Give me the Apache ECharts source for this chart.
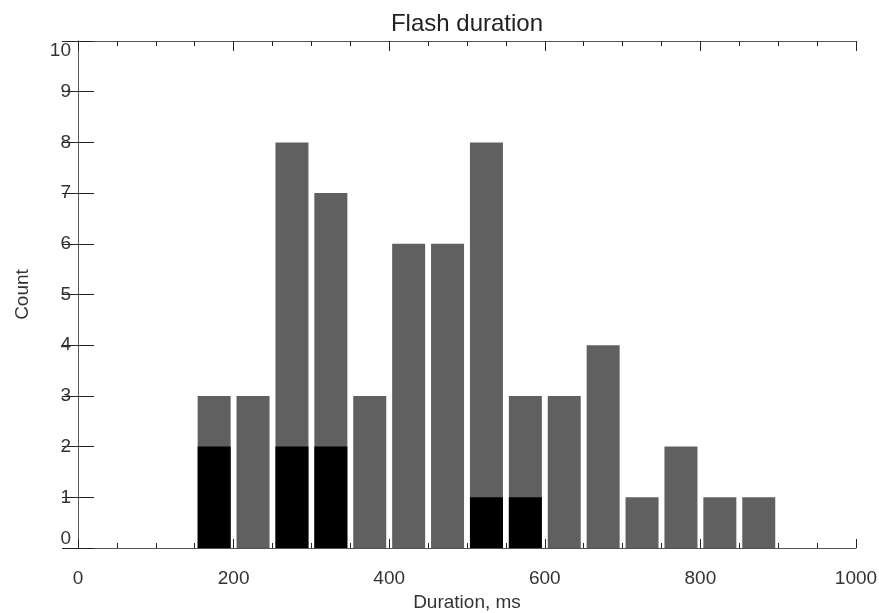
<!DOCTYPE html>
<html>
<head>
<meta charset="utf-8">
<script src="https://cdn.jsdelivr.net/npm/echarts@6/dist/echarts.min.js"></script>
<style>html,body{margin:0;padding:0;background:#fff}#c{width:879px;height:613px}</style>
</head>
<body>
<div id="c"></div>
<script>
var binCenters = [175, 225, 275, 325, 375, 425, 475, 525, 575, 625, 675, 725, 775, 825, 875];
var totalCounts = [3, 3, 8, 7, 3, 6, 6, 8, 3, 3, 4, 1, 2, 1, 1];
var blackCounts = [2, 0, 2, 2, 0, 0, 0, 1, 1, 0, 0, 0, 0, 0, 0];
var xTicks = [0, 200, 400, 600, 800, 1000];
var yTicks = [0, 1, 2, 3, 4, 5, 6, 7, 8, 9, 10];

var font = 'Liberation Sans, Arial, Helvetica, sans-serif';
var grayData = binCenters.map(function (c, i) { return [c, totalCounts[i]]; });
var blackData = binCenters.map(function (c, i) { return [c, blackCounts[i]]; });

var chart = echarts.init(document.getElementById('c'), null, {renderer: 'canvas'});
var axisLineStyle = {color: '#555', width: 1};
chart.setOption({
  animation: false,
  backgroundColor: '#fff',
  title: {
    text: 'Flash duration',
    left: 462, top: 7, textAlign: 'center',
    textStyle: {fontFamily: font, fontSize: 24, fontWeight: 'normal', color: '#222'}
  },
  grid: {left: 78, right: 23, top: 41, bottom: 65, containLabel: false, outerBoundsMode: 'none'},
  xAxis: [{
    type: 'value', position: 'bottom', min: xTicks[0], max: xTicks[xTicks.length - 1], interval: 200,
    name: 'Duration, ms', nameLocation: 'middle', nameGap: 45,
    nameTextStyle: {fontFamily: font, fontSize: 19, color: '#333'},
    axisLine: {show: true, onZero: false, lineStyle: axisLineStyle},
    axisTick: {show: true, inside: true, length: 9, lineStyle: {color: '#222'}},
    minorTick: {show: true, splitNumber: 4, length: 5, lineStyle: {color: '#222'}},
    axisLabel: {fontFamily: font, fontSize: 19, color: '#333', margin: 21,
      formatter: function (v) { return String(v); }},
    splitLine: {show: false}
  }, {
    type: 'value', position: 'top', min: xTicks[0], max: xTicks[xTicks.length - 1], interval: 200,
    axisLine: {show: true, onZero: false, lineStyle: axisLineStyle},
    axisTick: {show: true, inside: true, length: 10, lineStyle: {color: '#222'}},
    minorTick: {show: true, splitNumber: 4, length: 5, lineStyle: {color: '#222'}},
    axisLabel: {show: false},
    splitLine: {show: false}
  }],
  yAxis: [{
    type: 'value', position: 'left', min: yTicks[0], max: yTicks[yTicks.length - 1], interval: 1,
    name: 'Count', nameLocation: 'middle', nameGap: 46, nameRotate: 90,
    nameTextStyle: {fontFamily: font, fontSize: 19, color: '#333'},
    axisLine: {show: true, lineStyle: axisLineStyle},
    axisTick: {show: true, inside: true, length: 16, lineStyle: {color: '#222'}},
    axisLabel: {fontFamily: font, fontSize: 19, color: '#333', margin: 7,
      verticalAlignMinLabel: 'bottom', verticalAlignMaxLabel: 'top'},
    splitLine: {show: false}
  }, {
    type: 'value', position: 'right', min: yTicks[0], max: yTicks[yTicks.length - 1], interval: 1,
    axisLine: {show: true, lineStyle: axisLineStyle},
    axisTick: {show: true, inside: true, length: 16, lineStyle: {color: '#222'}},
    axisLabel: {show: false},
    splitLine: {show: false}
  }],
  series: [{
    type: 'bar', xAxisIndex: 0, yAxisIndex: 0,
    data: grayData, barWidth: 33, barGap: '-100%',
    itemStyle: {color: '#606060'}, z: 2
  }, {
    type: 'bar', xAxisIndex: 0, yAxisIndex: 0,
    data: blackData, barWidth: 33, barGap: '-100%',
    itemStyle: {color: '#000000'}, z: 3
  }]
});
</script>
</body>
</html>
